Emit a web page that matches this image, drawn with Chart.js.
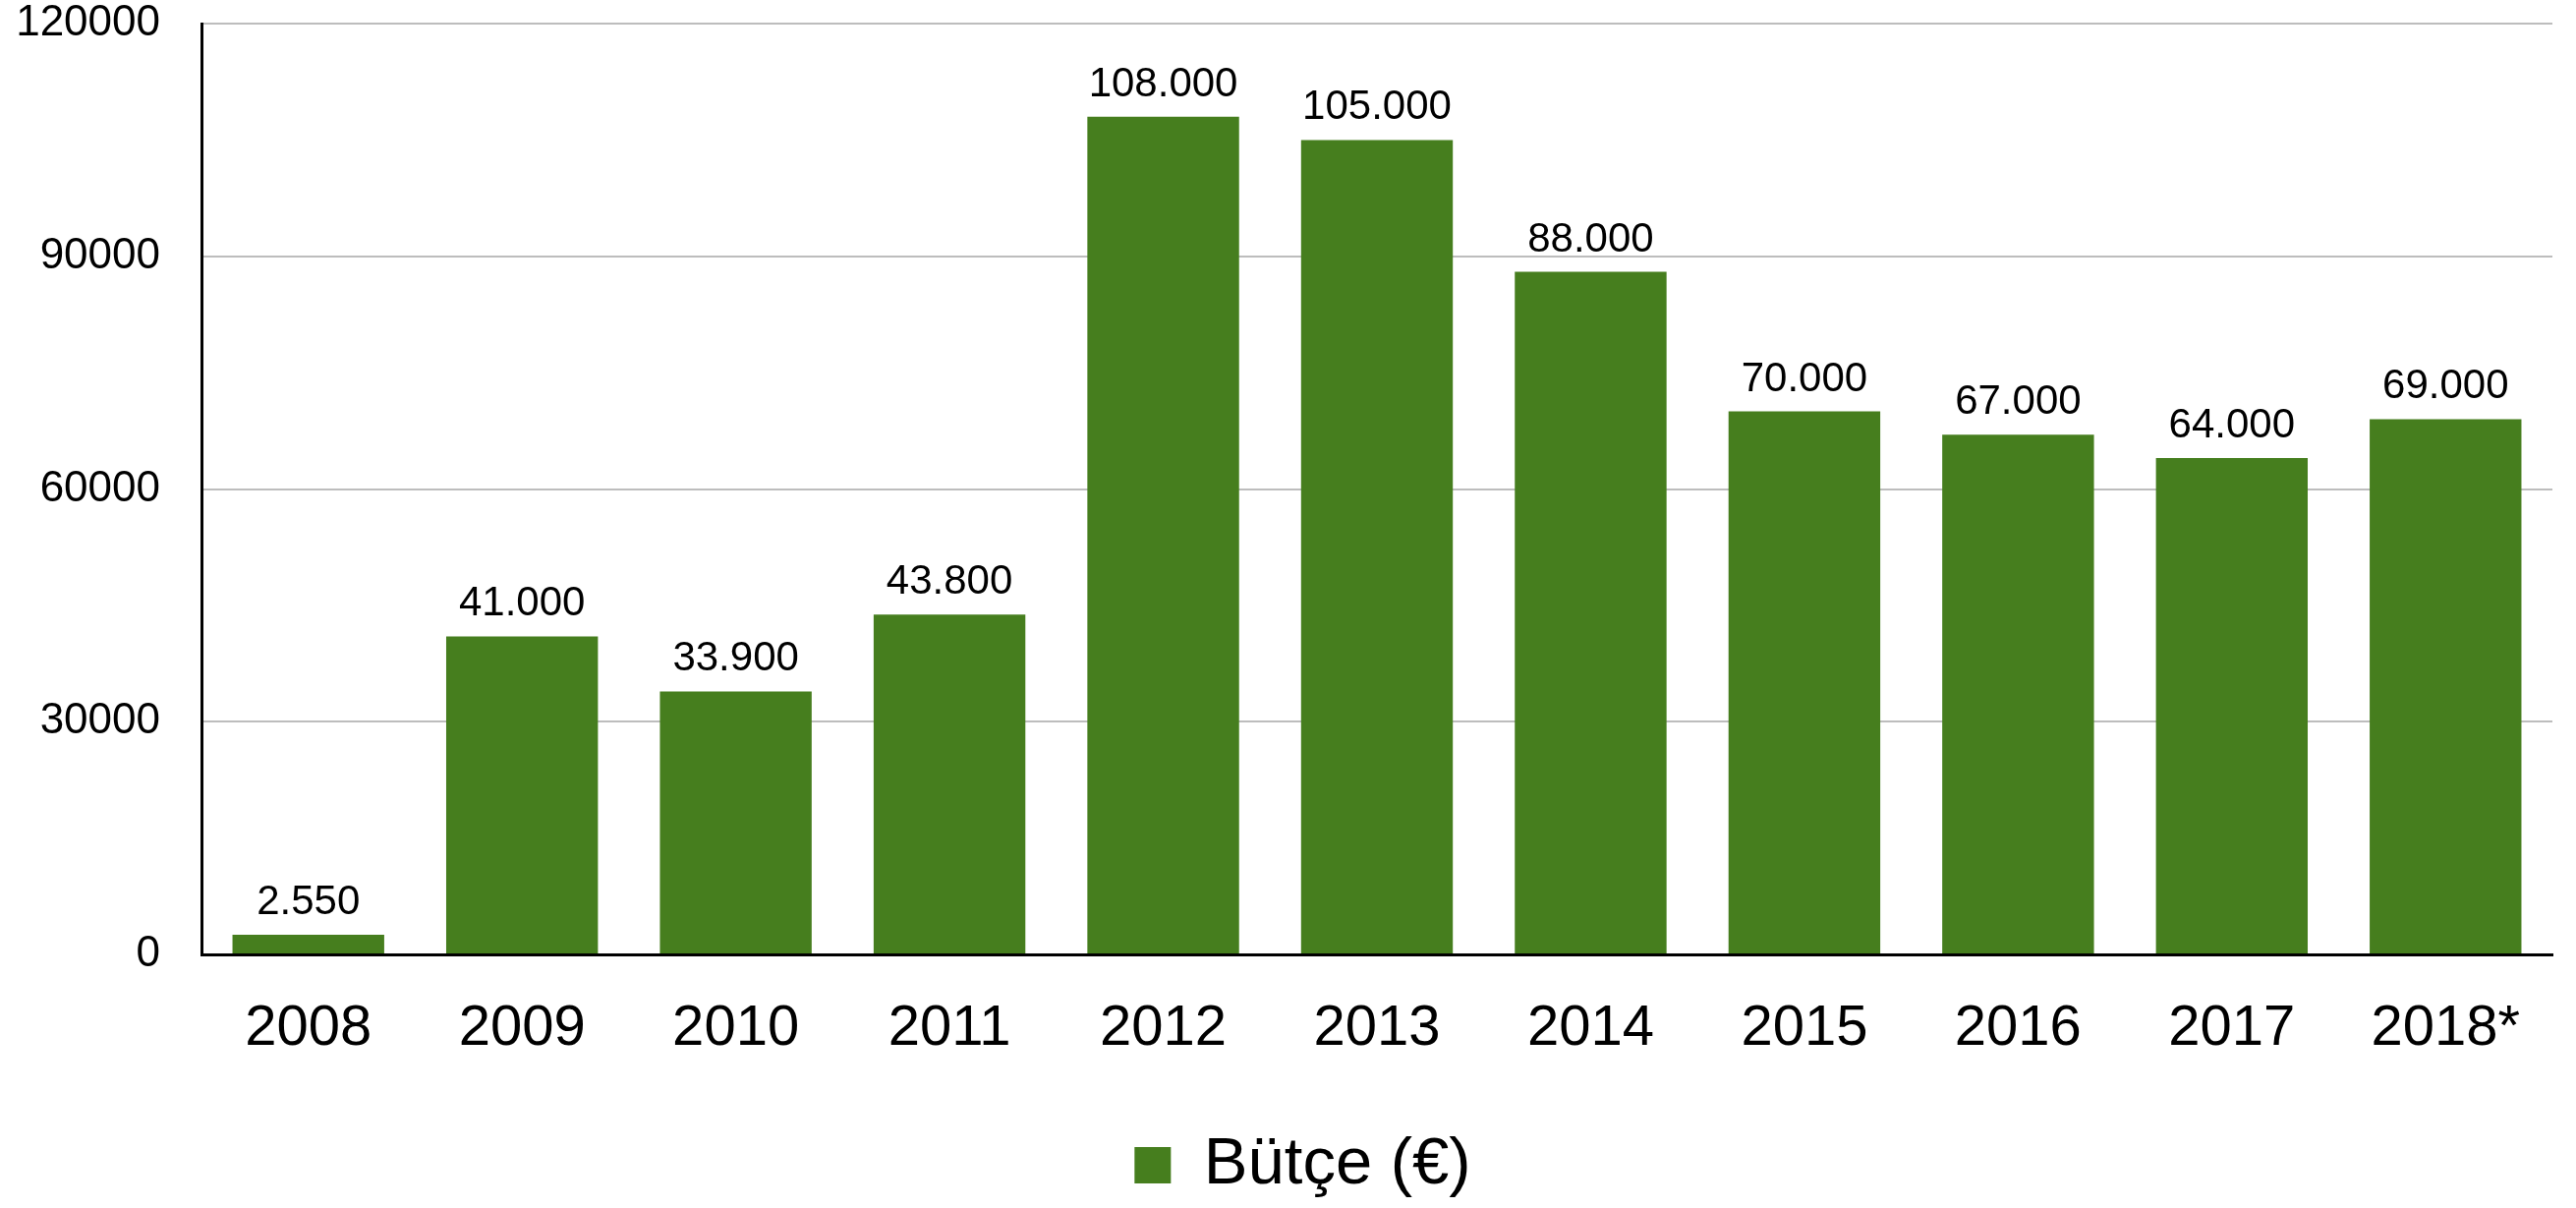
<!DOCTYPE html>
<html>
<head>
<meta charset="utf-8">
<title>Bütçe (€)</title>
<script src="https://cdn.jsdelivr.net/npm/chart.js@4/dist/chart.umd.min.js"></script>
<style>
  html, body { margin: 0; padding: 0; background: #fff; }
  #wrap { width: 2621px; height: 1229px; }
</style>
</head>
<body>
<div id="wrap"><canvas id="chart"></canvas></div>
<script>
// values
const years = ['2008', '2009', '2010', '2011', '2012', '2013', '2014', '2015', '2016', '2017', '2018*'];
const budget = [2550, 41000, 33900, 43800, 108000, 105000, 88000, 70000, 67000, 64000, 69000];
const yTicks = [0, 30000, 60000, 90000, 120000];

const FONT = '"Liberation Sans", Helvetica, Arial, sans-serif';
const GREEN = 'rgb(70, 126, 30)';

// 2.550 / 108.000 style labels above each bar
const fmtDots = v => String(v).replace(/\B(?=(\d{3})+(?!\d))/g, '.');

const barLabels = {
  id: 'barLabels',
  afterDatasetsDraw(chart) {
    const ctx = chart.ctx;
    const meta = chart.getDatasetMeta(0);
    ctx.save();
    ctx.font = '42px ' + FONT;
    ctx.fillStyle = '#000';
    ctx.textAlign = 'center';
    ctx.textBaseline = 'alphabetic';
    meta.data.forEach((bar, i) => {
      ctx.fillText(fmtDots(budget[i]), bar.x, bar.y - 21);
    });
    ctx.restore();
  }
};

// legend in the original sits a bit right of the canvas centre
const nudgeLegend = {
  id: 'nudgeLegend',
  afterLayout(chart) {
    if (chart.legend) {
      chart.legend.left += 27;
      chart.legend.right += 27;
    }
  }
};

new Chart(document.getElementById('chart'), {
  type: 'bar',
  data: {
    labels: years,
    datasets: [{
      label: 'Bütçe (€)',
      data: budget,
      backgroundColor: GREEN,
      borderWidth: 0,
      barPercentage: 0.71,
      categoryPercentage: 1.0
    }]
  },
  plugins: [barLabels, nudgeLegend],
  options: {
    responsive: true,
    maintainAspectRatio: false,
    animation: false,
    devicePixelRatio: 1,
    layout: {
      padding: { left: 0, right: 24, top: 24, bottom: 0 }
    },
    plugins: {
      tooltip: { enabled: false },
      legend: {
        display: true,
        position: 'bottom',
        labels: {
          boxWidth: 37,
          boxHeight: 37,
          padding: 30,
          color: '#000',
          font: { family: FONT, size: 67 }
        }
      }
    },
    scales: {
      x: {
        grid: { display: false, drawTicks: false },
        border: { display: true, color: '#000', width: 3 },
        ticks: {
          color: '#000',
          padding: 41,
          maxRotation: 0,
          font: { family: FONT, size: 58 }
        },
        afterFit(axis) { axis.height = 151; }
      },
      y: {
        min: 0,
        max: 120000,
        grid: { color: '#bdbdbd', lineWidth: 2, drawTicks: false },
        border: { display: true, color: '#000', width: 3 },
        afterBuildTicks(axis) { axis.ticks = yTicks.map(v => ({ value: v })); },
        ticks: {
          color: '#000',
          padding: 42,
          font: { family: FONT, size: 44 },
          callback: v => String(v)
        },
        afterFit(axis) {
          axis.width = 205;
          // the tick padding is horizontal only; don't let it push the plot down
          axis.paddingTop = 0;
          axis.paddingBottom = 0;
        }
      }
    }
  }
});
</script>
</body>
</html>
